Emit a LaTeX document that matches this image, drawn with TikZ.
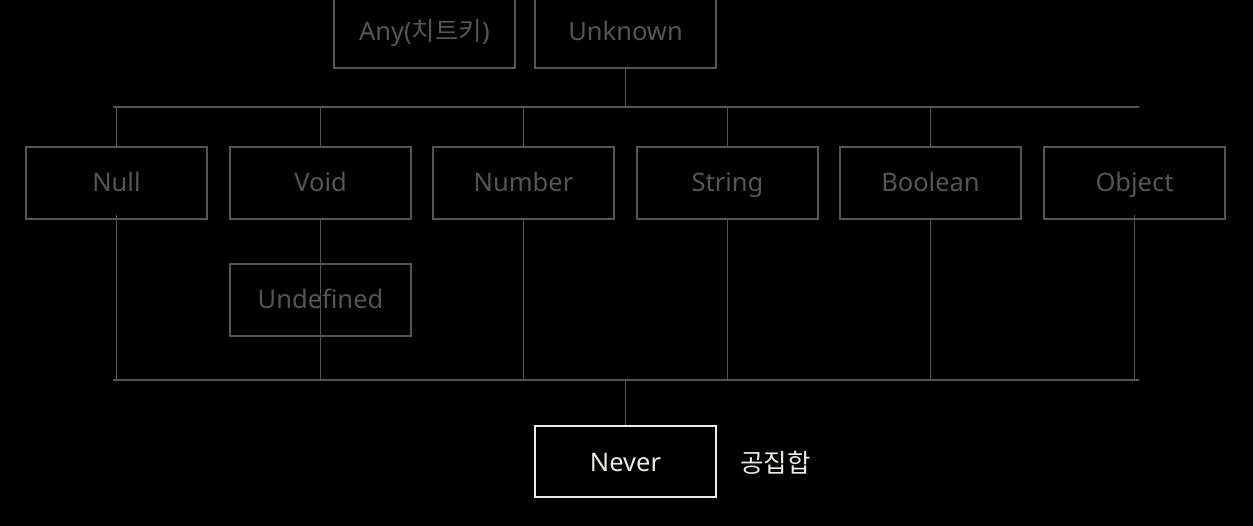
\documentclass[tikz,border=0pt]{standalone}
\usepackage{fontspec}
\setmainfont{Noto Sans}
\newfontfamily\kr{Noto Sans CJK KR}
\definecolor{dimtext}{HTML}{555555}
\definecolor{dimline}{HTML}{555555}
\definecolor{brighttext}{HTML}{ECECE4}
\begin{document}
\begin{tikzpicture}[x=1pt,y=-1pt,
  typebox/.style={draw=dimline,line width=1.4pt,minimum width=181pt,minimum height=72pt,inner sep=0pt,text=dimtext,text height=18pt,text depth=0pt,font=\fontsize{25.5}{29}\selectfont},
  neverbox/.style={draw=brighttext,line width=2.6pt,minimum width=181pt,minimum height=71pt,inner sep=0pt,text=brighttext,text height=20pt,text depth=0pt,font=\fontsize{25.5}{29}\selectfont},
  conn/.style={draw=dimline,line width=1.3pt}]
\fill[black] (0,0) rectangle (1253,526);
\useasboundingbox (0,0) rectangle (1253,526);
% top row
\node[typebox] (any) at (424.5,32) {Any({\kr 치트키})};
\node[typebox] (unknown) at (625.5,32) {Unknown};
% second row
\node[typebox] (null) at (116.5,183) {Null};
\node[typebox] (void) at (320.5,183) {Void};
\node[typebox] (number) at (523.5,183) {Number};
\node[typebox] (string) at (727.5,183) {String};
\node[typebox] (boolean) at (930.5,183) {Boolean};
\node[typebox] (object) at (1134.5,183) {Object};
\node[typebox] (undefined) at (320.5,300) {Undefined};
% bottom
\node[neverbox] (never) at (625.5,461.5) {Never};
\node[text=brighttext,font=\kr\fontsize{25.5}{29}\selectfont,anchor=west,inner sep=0pt] (empty) at (740,463) {공집합};
% buses
\coordinate (tbL) at (113,107);
\coordinate (tbR) at (1139,107);
\coordinate (bbL) at (113,380);
\coordinate (bbR) at (1139,380);
\draw[conn] (tbL) -- (tbR);
\draw[conn] (bbL) -- (bbR);
\draw[conn] (unknown.south) -- (unknown.south |- tbL);
\foreach \n in {null,void,number,string,boolean}{
  \draw[conn] (\n.north) -- (\n.north |- tbL);
}
\foreach \n in {number,string,boolean}{
  \draw[conn] (\n.south) -- (\n.south |- bbL);
}
\draw[conn] ([yshift=5pt]null.south) -- (null.south |- bbL);
\draw[conn] ([yshift=5pt]object.south) -- (object.south |- bbL);
\draw[conn] (void.south) -- (void.south |- bbL);
\draw[conn] (never.north) -- (never.north |- bbL);
\end{tikzpicture}
\end{document}
